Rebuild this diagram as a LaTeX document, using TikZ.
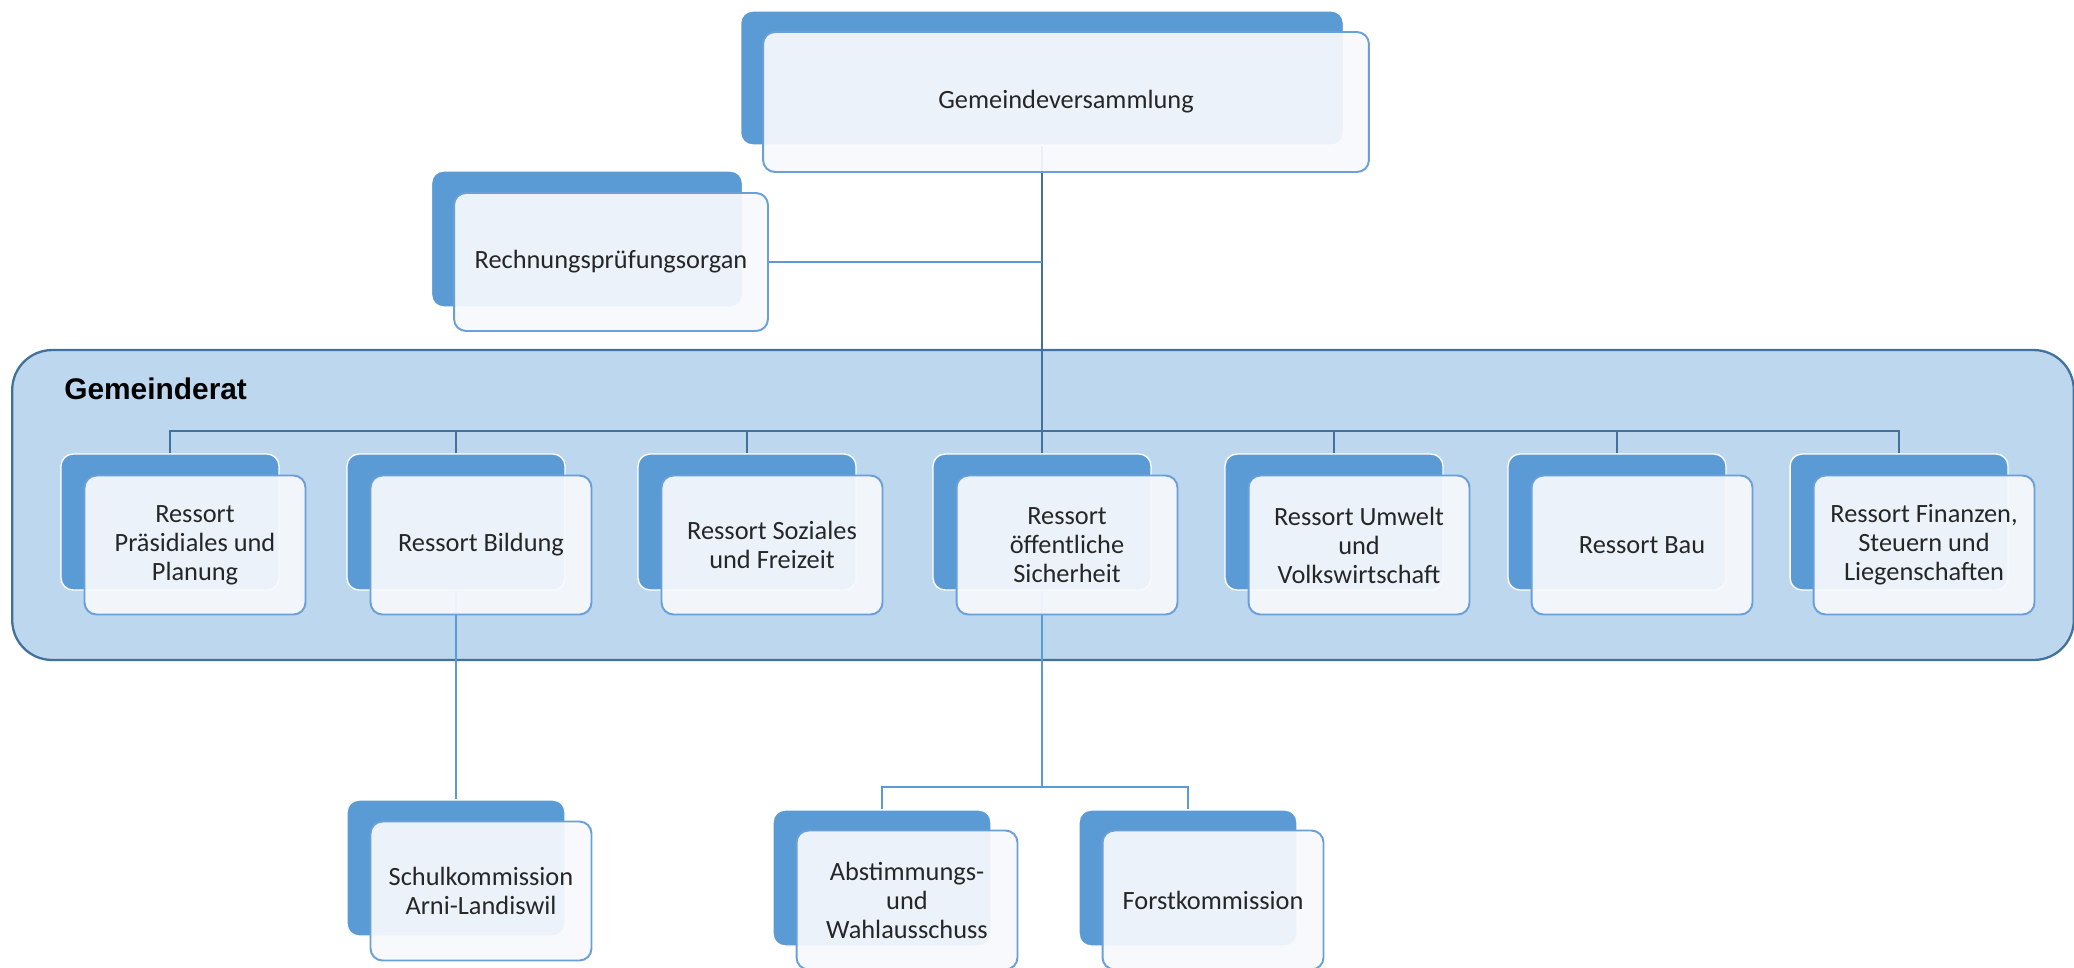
\documentclass[tikz,border=0pt]{standalone}
\usepackage{fontspec}
\setmainfont{Carlito}
\newfontfamily\headfont{Liberation Sans}
\usetikzlibrary{positioning, calc, backgrounds}

\definecolor{boxdark}{HTML}{5B9BD5}
\definecolor{boxline}{HTML}{6A9FD8}
\definecolor{boxfill}{HTML}{F7F9FC}
\definecolor{ratfill}{HTML}{BDD7EE}
\definecolor{ratline}{HTML}{41719C}

\tikzset{
  backbox/.style={rectangle, rounded corners=0.24cm, fill=boxdark, draw=white,
    line width=0.8pt, minimum width=4.36cm, minimum height=2.72cm, inner sep=0pt},
  frontbox/.style={rectangle, rounded corners=0.24cm, fill=boxfill, fill opacity=0.93,
    text opacity=1, draw=boxline, line width=1.1pt, minimum width=4.42cm,
    minimum height=2.78cm, inner sep=2pt, align=center, text=black!85,
    font=\fontsize{15}{16.5}\selectfont},
  ratbox/.style={rectangle, rounded corners=0.8cm, fill=ratfill, draw=ratline,
    line width=1.3pt, minimum width=41.24cm, minimum height=6.2cm},
  spineline/.style={draw=ratline, line width=1.1pt},
  linkline/.style={draw=boxdark, line width=1.1pt}
}

\begin{document}
\begin{tikzpicture}[x=0.02cm, y=-0.02cm]
        \useasboundingbox (0,0) rectangle (2074,967);
        % top
        \node[backbox, minimum width=12.06cm, minimum height=2.68cm] (gvb) at (1042,78) {};
        \node[frontbox, minimum width=12.12cm, minimum height=2.8cm] (gv) at (1066,102) {Gemeindeversammlung};
        \node[backbox, minimum width=6.22cm] (rpb) at (587,239) {};
        \node[frontbox, minimum width=6.28cm, minimum height=2.76cm] (rp) at (611,262) {Rechnungsprüfungsorgan};
        % ressorts
        \node[backbox]  (r1b) at (170,522) {};
        \node[frontbox] (r1)  at (195,545) {Ressort\\Präsidiales und\\Planung};
        \node[backbox]  (r2b) at (456,522) {};
        \node[frontbox] (r2)  at (481,545) {Ressort Bildung};
        \node[backbox]  (r3b) at (747,522) {};
        \node[frontbox] (r3)  at (772,545) {Ressort Soziales\\und Freizeit};
        \node[backbox]  (r4b) at (1042,522) {};
        \node[frontbox] (r4)  at (1067,545) {Ressort\\öffentliche\\Sicherheit};
        \node[backbox]  (r5b) at (1334,522) {};
        \node[frontbox] (r5)  at (1359,545) {Ressort Umwelt\\und\\Volkswirtschaft};
        \node[backbox]  (r6b) at (1617,522) {};
        \node[frontbox] (r6)  at (1642,545) {Ressort Bau};
        \node[backbox]  (r7b) at (1899,522) {};
        \node[frontbox] (r7)  at (1924,545) {Ressort Finanzen,\\Steuern und\\Liegenschaften};
        % kommissionen
        \node[backbox]  (skb) at (456,868) {};
        \node[frontbox] (sk)  at (481,891) {Schulkommission\\Arni-Landiswil};
        \node[backbox]  (awb) at (882,878) {};
        \node[frontbox] (aw)  at (907,900) {Abstimmungs-\\und\\Wahlausschuss};
        \node[backbox]  (fkb) at (1188,878) {};
        \node[frontbox] (fk)  at (1213,900) {Forstkommission};
        % label
        \node[font=\headfont\bfseries\fontsize{17}{19}\selectfont, anchor=base west, inner sep=0pt] (ratlabel) at (64,399) {Gemeinderat};
        % container and lines
        \begin{scope}[on background layer]
        \node[ratbox] (rat) at (1043,505) {};
        \coordinate (bus)   at (1042,431);
        \coordinate (split) at (1042,787);
        \draw[spineline] (gvb.south) -- (r4b.north);
        \draw[linkline]  (rp.east) -- (rp.east -| gvb.south);
        \draw[spineline] (r1b.north) -- (r1b.north |- bus) -- (r7b.north |- bus) -- (r7b.north);
        \draw[spineline] (r2b.north) -- (r2b.north |- bus);
        \draw[spineline] (r3b.north) -- (r3b.north |- bus);
        \draw[spineline] (r5b.north) -- (r5b.north |- bus);
        \draw[spineline] (r6b.north) -- (r6b.north |- bus);
        \draw[linkline]  (r2b.south) -- (skb.north);
        \draw[linkline]  (r4b.south) -- (split);
        \draw[linkline]  (awb.north) -- (awb.north |- split) -- (fkb.north |- split) -- (fkb.north);
        \end{scope}
\end{tikzpicture}
\end{document}
